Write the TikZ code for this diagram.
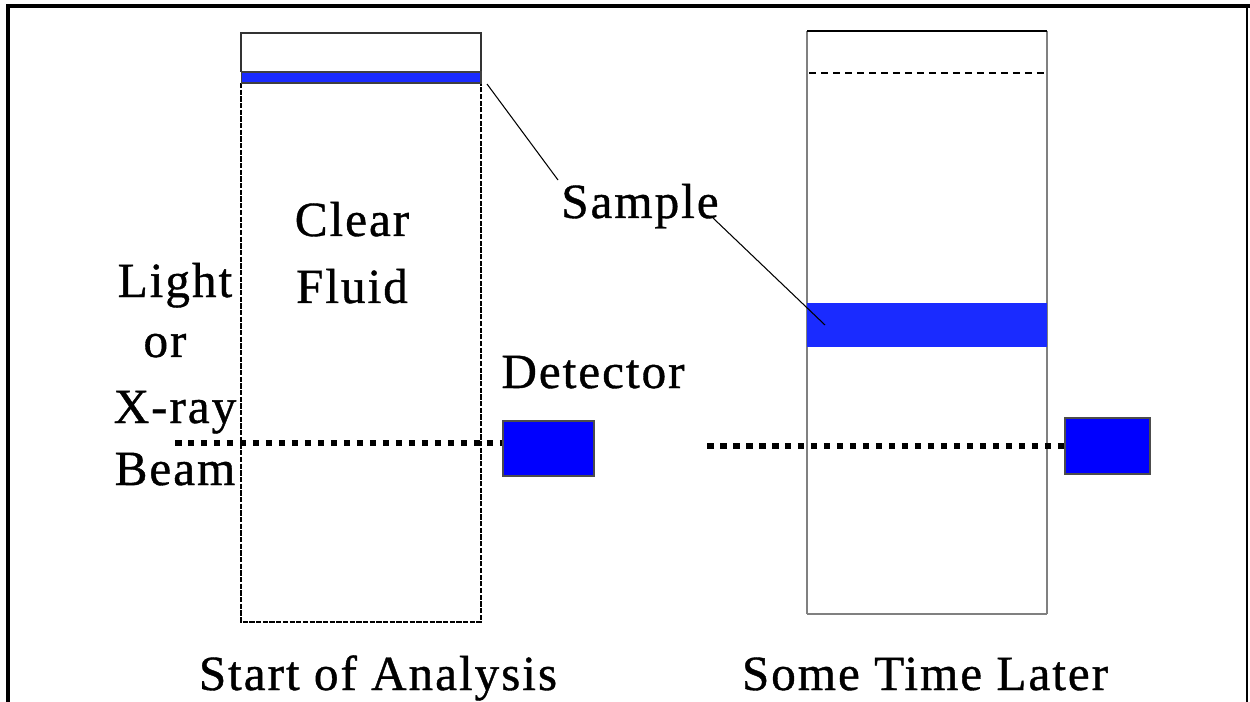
\documentclass[tikz,border=0pt]{standalone}
\usepackage{fontspec}
\setmainfont{Liberation Serif}
\newfontfamily\labelfont{Liberation Serif}[LetterSpace=4, FakeBold=0.8]
\usepackage{tikz}
\usetikzlibrary{positioning}
\definecolor{bandblue}{HTML}{1A2BFF}
\definecolor{detblue}{HTML}{0000FF}
\definecolor{sidegray}{HTML}{808080}

\begin{document}
\begin{tikzpicture}[x=0.02cm, y=-0.02cm,
    every node/.style={font=\labelfont\fontsize{28}{30}\selectfont, inner sep=0pt},
    band/.style={fill=bandblue, minimum width=4.8cm},
    detector/.style={fill=detblue, draw=black!70, line width=0.6pt},
    beam/.style={line width=3.9pt, dash pattern=on 0.13cm off 0.13cm}]
  \useasboundingbox (0,0) rectangle (1250,702);
  % frame
  \draw[line width=2.3pt] (8,702) -- (8,6) -- (1250,6);
  \draw[line width=1.2pt] (1247,6) -- (1247,702);
  % left tube
  \draw[line width=0.8pt, black!80] (241,72) -- (241,33) -- (481,33) -- (481,72);
  \draw[line width=0.7pt, dash pattern=on 3pt off 0.8pt] (241,83) rectangle (481,622);
  \node[band, draw=black!75, line width=0.6pt, minimum height=0.22cm] (bandL) at (361,77.5) {};
  % right tube
  \draw[line width=0.8pt, sidegray] (807,614) -- (807,31);
  \draw[line width=0.8pt, sidegray] (1047,614) -- (1047,31);
  \draw[line width=0.8pt] (807,31) -- (1047,31);
  \draw[line width=0.8pt, sidegray] (807,614) -- (1047,614);
  \draw[line width=1.3pt, dash pattern=on 0.14cm off 0.1cm] (809,73) -- (1045,73);
  \node[band, minimum height=0.88cm] (bandR) at (927,325) {};
  % detectors
  \node[detector, minimum width=1.82cm, minimum height=1.1cm] (detL) at (548.5,448.5) {};
  \node[detector, minimum width=1.7cm, minimum height=1.12cm] (detR) at (1107.5,446) {};
  % beams
  \coordinate (srcL) at (175,443);
  \coordinate (srcR) at (707,446);
  \draw[beam] (srcL) -- (srcL -| detL.west);
  \draw[beam] (srcR) -- (srcR -| detR.west);
  % labels
  \node[anchor=base] (sample) at (640,218) {Sample};
  \coordinate (tipL) at (487,84);
  \coordinate (tipR) at (825,325);
  \draw[line width=0.6pt] (tipL) -- (558,180);
  \draw[line width=0.6pt] (713,218) -- (tipR);
  \node[anchor=base] (clear) at (352,236) {Clear};
  \node[anchor=base] (fluid) at (352,303) {Fluid};
  \node[anchor=base] (light) at (175,297) {Light};
  \node[anchor=base] (or) at (165,357) {or};
  \node[anchor=base] (xray) at (175,423) {X-ray};
  \node[anchor=base] (beamtxt) at (175,485) {Beam};
  \node[anchor=base] (detector) at (593,388) {Detector};
  \node[anchor=base] (start) at (378,690) {Start of Analysis};
  \node[anchor=base] (later) at (925,690) {Some Time Later};
\end{tikzpicture}
\end{document}
